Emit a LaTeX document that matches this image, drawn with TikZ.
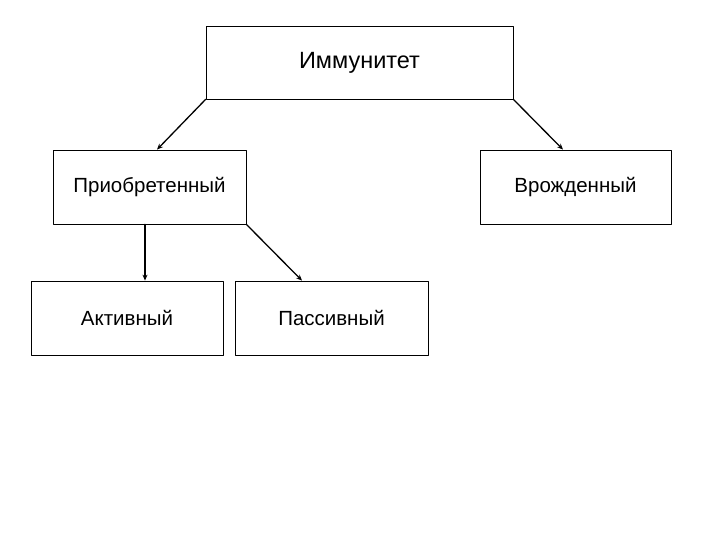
\documentclass[tikz,border=0pt]{standalone}
\usepackage{fontspec}
\setmainfont{Liberation Sans}
\usetikzlibrary{arrows.meta,positioning}
\tikzset{
  box/.style={draw,fill=white,line width=0.8pt,minimum width=193pt,minimum height=74pt,
              inner sep=0pt,font=\fontsize{20.5}{23}\selectfont},
  arr/.style={line width=1.3pt,-{Stealth[length=6pt,width=5pt]}},
  every picture/.style={line cap=round,line join=round}}
\begin{document}
\begin{tikzpicture}[x=1pt,y=-1pt]
  \useasboundingbox (0,0) rectangle (720,540);
  \node[box,minimum width=307pt,minimum height=73pt,font=\fontsize{23.5}{26}\selectfont] (imm) at (359.5,62.5){Иммунитет};
  \node[box] (acq) at (149.5,187){Приобретенный};\node[box,minimum width=191pt] (inn) at (575.5,187){Врожденный};
  \node[box,minimum width=192pt] (act) at (127,318){Активный};\node[box] (pas) at (331.5,318){Пассивный};
  \draw[arr] (imm.south west)--([xshift=7.5pt]acq.north);
  \draw[arr] (imm.south east)--([xshift=-12.5pt]inn.north);
  \draw[arr] ([xshift=-4.5pt]acq.south)--([xshift=-4.5pt]acq.south |- act.north);
  \draw[arr] (acq.south east)--([xshift=-29.5pt]pas.north);
\end{tikzpicture}
\end{document}
